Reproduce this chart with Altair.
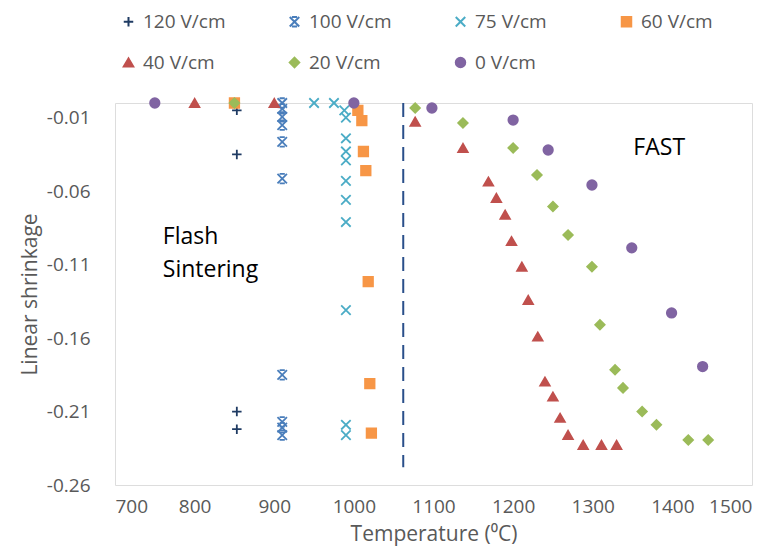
import altair as alt
import pandas as pd

# ---- data ----
series_names = ["120 V/cm", "100 V/cm", "75 V/cm", "60 V/cm", "40 V/cm", "20 V/cm", "0 V/cm"]

t_120 = [853, 853, 853, 853]
s_120 = [-0.005, -0.035, -0.210, -0.222]

t_100 = [910, 910, 910, 910, 910, 910, 910, 910, 910, 910]
s_100 = [0.0, -0.004, -0.0095, -0.015, -0.0265, -0.0515, -0.185, -0.217, -0.221, -0.226]

t_75 = [950, 975, 988, 990, 990, 990, 990, 990, 990, 990, 990, 990, 990]
s_75 = [0.0, 0.0, -0.005, -0.010, -0.024, -0.033, -0.039, -0.053, -0.066, -0.081, -0.141, -0.219, -0.226]

t_60 = [850, 1005, 1010, 1012, 1015, 1018, 1020, 1022]
s_60 = [0.0, -0.005, -0.012, -0.033, -0.046, -0.1216, -0.191, -0.2247]

t_40 = [800, 900, 1077, 1137, 1169, 1179, 1190, 1198, 1211, 1219, 1231, 1240, 1250, 1259, 1269, 1288, 1311, 1330]
s_40 = [0.0, 0.0, -0.0127, -0.0306, -0.0535, -0.0646, -0.076, -0.094, -0.1114, -0.134, -0.159,
        -0.1896, -0.1998, -0.2143, -0.2259, -0.2327, -0.2327, -0.2327]

t_20 = [850, 1077, 1137, 1200, 1230, 1250, 1269, 1299, 1309, 1328, 1338, 1362, 1380, 1420, 1445]
s_20 = [0.0, -0.0034, -0.0136, -0.0306, -0.049, -0.0705, -0.0898, -0.1114, -0.151, -0.1816,
        -0.1939, -0.210, -0.219, -0.2293, -0.2293]

t_0 = [750, 1000, 1098, 1200, 1244, 1299, 1349, 1399, 1438]
s_0 = [0.0, 0.0, -0.0034, -0.0116, -0.032, -0.0558, -0.0986, -0.1429, -0.1794]

x_ticks = [700, 800, 900, 1000, 1100, 1200, 1300, 1400, 1500]
y_ticks = [-0.26, -0.21, -0.16, -0.11, -0.06, -0.01]

dash_t = [1062]
dash_top = [0.0]
dash_bottom = [-0.248]

note_text = ["Flash", "Sintering", "FAST"]
note_t = [760, 760, 1351]
note_s = [-0.091, -0.1136, -0.0306]

# ---- styling ----
stroke_colors = ["#1F3B63", "#4A7EBB", "#4BACC6", "#F79646", "#C0504D", "#9BBB59", "#8064A2"]
fill_colors = ["transparent", "transparent", "transparent", "#F79646", "#C0504D", "#9BBB59", "#8064A2"]
marker_sizes = [90, 90, 90, 85, 110, 90, 95]
shapes = [
    "M-1,0H1M0,-1V1",
    "M-1,-1L1,1M-1,1L1,-1M-0.55,-1H0.55M-0.55,1H0.55",
    "M-1,-1L1,1M-1,1L1,-1",
    "square",
    "triangle-up",
    "diamond",
    "circle",
]

rows = []
for name, ts, ss in zip(series_names,
                        [t_120, t_100, t_75, t_60, t_40, t_20, t_0],
                        [s_120, s_100, s_75, s_60, s_40, s_20, s_0]):
    for t, s in zip(ts, ss):
        rows.append({"series": name, "T": t, "S": s})
df = pd.DataFrame(rows)

FONT = "Open Sans"
GRAY = "#595959"

legend = alt.Legend(
    title=None, orient="none", legendX=4, legendY=-91, direction="horizontal",
    columns=4, gridAlign="all", columnPadding=59, rowPadding=21,
    labelFont=FONT, labelFontSize=19, labelColor=GRAY, labelOffset=5,
    symbolStrokeWidth=2, padding=0,
)

x_enc = alt.X("T:Q", scale=alt.Scale(domain=[700, 1500], nice=False, zero=False),
              axis=alt.Axis(values=x_ticks, format="d", title="Temperature (\u2070C)", grid=False, domain=False,
                            ticks=False, tickSize=0, labelPadding=12, titlePadding=7,
                            labelFont=FONT, labelFontSize=19, labelColor=GRAY,
                            titleFont=FONT, titleFontSize=21, titleColor=GRAY, titleFontWeight="normal"))
y_enc = alt.Y("S:Q", scale=alt.Scale(domain=[-0.26, 0], nice=False, zero=False),
              axis=alt.Axis(values=y_ticks, labelExpr="replace(format(datum.value, '.2f'), '\u2212', '-')",
                            title="Linear shrinkage", grid=False, domain=False,
                            ticks=False, tickSize=0, labelPadding=25, titlePadding=6,
                            labelFont=FONT, labelFontSize=19, labelColor=GRAY,
                            titleFont=FONT, titleFontSize=21, titleColor=GRAY, titleFontWeight="normal"))

points = alt.Chart(df).mark_point(opacity=1, strokeWidth=1.8).encode(
    x=x_enc,
    y=y_enc,
    fill=alt.Fill("series:N", sort=series_names,
                  scale=alt.Scale(domain=series_names, range=fill_colors), legend=legend),
    stroke=alt.Stroke("series:N", sort=series_names,
                      scale=alt.Scale(domain=series_names, range=stroke_colors), legend=legend),
    shape=alt.Shape("series:N", sort=series_names,
                    scale=alt.Scale(domain=series_names, range=shapes), legend=legend),
    size=alt.Size("series:N", sort=series_names,
                  scale=alt.Scale(domain=series_names, range=marker_sizes), legend=legend),
)

dash_df = pd.DataFrame({"T": dash_t, "top": dash_top, "bottom": dash_bottom})
dash = alt.Chart(dash_df).mark_rule(color="#2A4F8A", strokeWidth=2, strokeDash=[14, 8]).encode(
    x="T:Q", y="top:Q", y2="bottom:Q"
)

notes_df = pd.DataFrame({"label": note_text, "T": note_t, "S": note_s})
notes = alt.Chart(notes_df).mark_text(align="left", baseline="middle", font=FONT, fontSize=23,
                                      color="#000000").encode(
    x="T:Q", y="S:Q", text="label:N"
)

chart = alt.layer(dash, points, notes).properties(
    width=637, height=382,
    autosize=alt.AutoSizeParams(type="none"),
    padding={"left": 107, "top": 95, "right": 13, "bottom": 62},
).configure_view(stroke="#D4D4D4", strokeWidth=1.2).configure(background="white")

chart.save("out.html", embed_options={"renderer": "svg", "actions": False})
